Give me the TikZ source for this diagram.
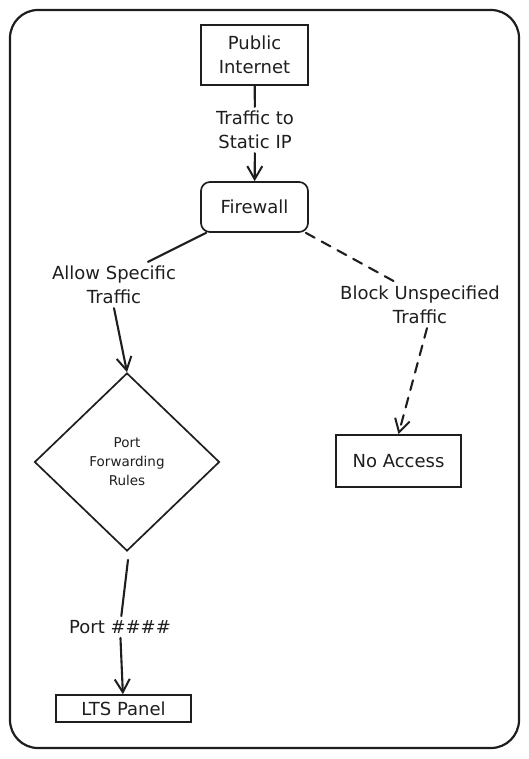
\documentclass[tikz,border=0pt]{standalone}
\usepackage{fontspec}
\setmainfont{DejaVu Sans}
\usetikzlibrary{shapes.geometric,arrows.meta,calc}
\definecolor{ink}{HTML}{1E1E1E}
\begin{document}
\begin{tikzpicture}[x=1pt,y=-1pt,
  box/.style={draw=ink, line width=1.7pt, inner sep=0pt, align=center, text=ink,
    font=\fontsize{18}{24}\selectfont},
  lab/.style={inner sep=4pt, align=center, text=ink, font=\fontsize{18}{24}\selectfont},
  conn/.style={draw=ink, line width=2.1pt, line cap=round},
  arr/.style={conn, -{Straight Barb[length=13pt,width=15pt,line width=2pt]}},
  brk/.style={dash pattern=on 10pt off 8pt}]
\useasboundingbox (0,0) rectangle (529,759);
\draw[ink, line width=2.2pt, rounded corners=28pt] (10,10) rectangle (519,748);

\node[box, minimum width=107pt, minimum height=60pt] (pub) at (254.5,55) {Public\\Internet};
\node[box, rounded corners=9pt, minimum width=107pt, minimum height=50pt] (fw) at (254.5,207) {Firewall};
\node[box, diamond, minimum width=185pt, minimum height=178pt,
  font=\fontsize{13.5}{19}\selectfont] (dia) at (127,462) {Port\\Forwarding\\Rules};
\node[box, minimum width=125pt, minimum height=52pt] (na) at (398.5,461) {No Access};
\node[box, minimum width=135pt, minimum height=27pt] (lts) at (123.5,708.5) {LTS Panel};

\node[lab] (l1) at (255,130) {Traffic to\\Static IP};
\node[lab] (l2) at (114,285) {Allow Specific\\Traffic};
\node[lab] (l3) at (420,305) {Block Unspecified\\Traffic};
\node[lab] (l4) at (120,627) {Port \#\#\#\#};

\draw[conn] (pub) -- (l1);
\draw[arr] (l1) -- (fw);
\draw[conn] ($(fw.south west)+(6,0)$) -- ($(l2.north)+(34,0)$);
\draw[arr] (l2.south) -- (dia.north);
\draw[conn, brk] ($(fw.south east)+(-3,0)$) -- ($(l3.north)+(-25,0)$);
\draw[arr, brk] ($(l3.south)+(7,0)$) -- (na.north);
\draw[conn] ($(dia.south)+(1,8)$) -- (l4);
\draw[arr] (l4) -- (lts);
\end{tikzpicture}
\end{document}
